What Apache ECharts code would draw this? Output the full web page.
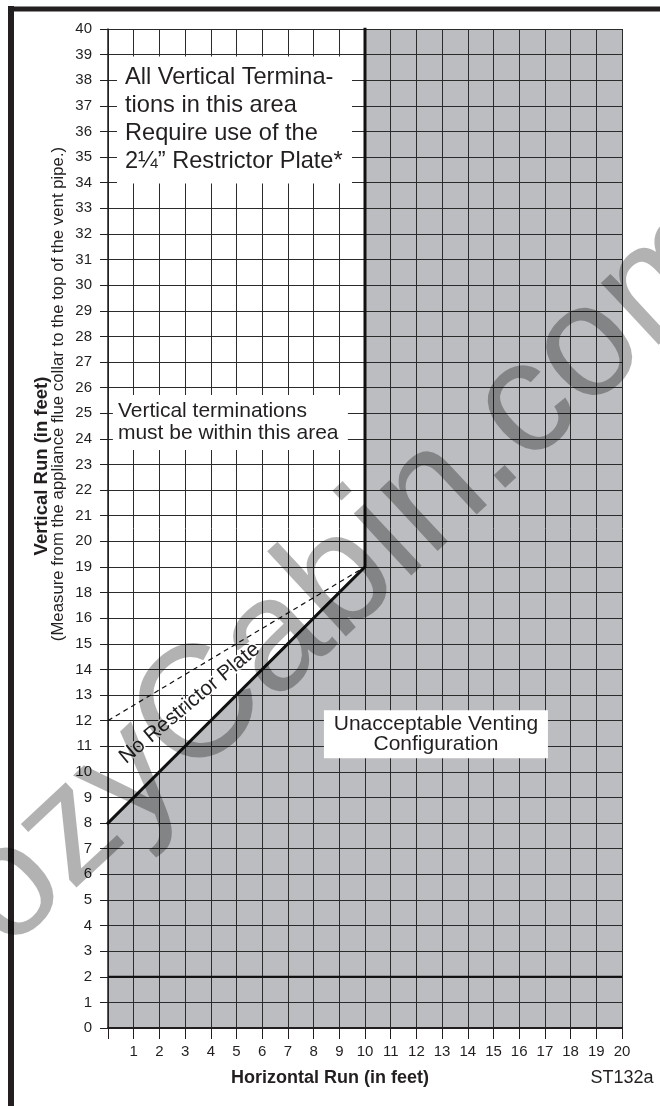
<!DOCTYPE html>
<html>
<head>
<meta charset="utf-8">
<script src="https://cdn.jsdelivr.net/npm/echarts@6/dist/echarts.min.js"></script>
<style>
html,body{margin:0;padding:0;background:#fff;}
#chart{width:660px;height:1106px;}
</style>
</head>
<body>
<div id="chart"></div>
<script>
// ---- data ----
// y tick labels as printed (note: the original scale has no "17")
const yTickLabels = ['0','1','2','3','4','5','6','7','8','9','10','11','12','13','14','15','16',
  '18','19','20','21','22','23','24','25','26','27','28','29','30','31','32','33','34','35','36','37','38','39','40'];
const xTickLabels = ['','1','2','3','4','5','6','7','8','9','10','11','12','13','14','15','16','17','18','19','20'];

// boundary with restrictor plate limits (horizontal ft, vertical ft)
const boundaryX = [0, 10, 10];
const boundaryY = [8, 19, 40];
// "No Restrictor Plate" dashed limit
const noPlateX = [0, 10];
const noPlateY = [12, 19];
// unacceptable region polygon
const areaX = [0, 0, 10, 10, 20, 20];
const areaY = [0, 8, 19, 40, 40, 0];
// heavy reference line at 2 ft
const refX = [0, 20];
const refY = [2, 2];

// convert a printed vertical value to its position on the printed scale
function toIdx(v) {
  const s = String(v);
  const i = yTickLabels.indexOf(s);
  if (i >= 0) return i;
  return v <= 16 ? v : v - 1;
}

const INK = '#231f20';
const GREY = '#bcbdc0';
const FONT = '"Liberation Sans", Arial, sans-serif';
const NARROW = '"Liberation Sans Narrow", "Arial Narrow", "Liberation Sans", sans-serif';

const chart = echarts.init(document.getElementById('chart'), null, {renderer: 'canvas'});

const areaData = areaX.map((x, i) => [x, toIdx(areaY[i])]);

const option = {
  backgroundColor: '#fff',
  animation: false,
  grid: {left: 108, right: 38, top: 29, bottom: 78},
  xAxis: {
    type: 'value', min: 0, max: 20, interval: 1, z: 3,
    axisLine: {show: true, lineStyle: {color: INK, width: 2}},
    axisTick: {show: true, length: 11, lineStyle: {color: INK, width: 1}},
    axisLabel: {
      formatter: v => xTickLabels[v],
      color: INK, fontFamily: NARROW, fontSize: 15, margin: 16
    },
    splitLine: {show: true, lineStyle: {color: '#2b2b2b', width: 1}}
  },
  yAxis: {
    type: 'value', min: 0, max: yTickLabels.length - 1, interval: 1, z: 3,
    axisLine: {show: true, lineStyle: {color: INK, width: 1.5}},
    axisTick: {show: true, length: 8, lineStyle: {color: INK, width: 1}},
    axisLabel: {
      formatter: v => yTickLabels[v],
      color: INK, fontFamily: NARROW, fontSize: 15, margin: 16
    },
    splitLine: {show: true, lineStyle: {color: '#2b2b2b', width: 1}}
  },
  series: [
    {
      type: 'custom', z: 1, silent: true,
      data: areaData,
      renderItem: function (params, api) {
        if (params.dataIndex !== 0) return null;
        const pts = areaData.map(p => api.coord(p));
        return {type: 'polygon', shape: {points: pts}, style: {fill: GREY}};
      }
    },
    {
      type: 'line', z: 5, symbol: 'none', silent: true,
      data: refX.map((x, i) => [x, toIdx(refY[i])]),
      lineStyle: {color: '#111', width: 2}
    },
    {
      type: 'line', z: 5, symbol: 'none', silent: true,
      data: noPlateX.map((x, i) => [x, toIdx(noPlateY[i])]),
      lineStyle: {color: '#111', width: 1.2, type: [5, 4]}
    },
    {
      type: 'line', z: 6, symbol: 'none', silent: true,
      data: boundaryX.map((x, i) => [x, toIdx(boundaryY[i])]),
      lineStyle: {color: '#111', width: 3, cap: 'square', join: 'miter'}
    },
    {
      type: 'scatter', z: 10, symbolSize: 0, silent: true,
      itemStyle: {opacity: 1},
      data: [
        {value: [0.35, 35.45], label: {
          formatter: 'All Vertical Termina-\ntions in this area\nRequire use of the\n2\u00BC\u201D Restrictor Plate*',
          align: 'left', verticalAlign: 'middle', fontSize: 23.6, lineHeight: 28,
          width: 218, padding: [8, 9, 7, 8]}},
        {value: [0.19, 23.64], label: {
          formatter: 'Vertical terminations\nmust be within this area',
          align: 'left', verticalAlign: 'middle', fontSize: 21, lineHeight: 22,
          width: 228, padding: [5, 2, 6, 5]}},
        {value: [12.76, 11.47], label: {
          formatter: 'Unacceptable Venting\nConfiguration',
          align: 'center', verticalAlign: 'middle', fontSize: 21, lineHeight: 20,
          width: 210, padding: [4, 7, 4, 7]}}
      ],
      label: {
        show: true, position: 'inside', color: INK, fontFamily: FONT,
        backgroundColor: '#fff', opacity: 1
      }
    },
    {
      type: 'scatter', z: 9, symbolSize: 0, silent: true,
      itemStyle: {opacity: 1},
      data: [{value: [3.18, 12.68]}],
      label: {
        show: true, position: 'inside', formatter: 'No Restrictor Plate',
        rotate: 40, color: INK, fontFamily: FONT, fontSize: 21, opacity: 1,
        textBorderColor: '#fff', textBorderWidth: 3
      }
    }
  ],
  graphic: {
    elements: [
      {type: 'line', z: 100, shape: {x1: 11, y1: 6, x2: 11, y2: 1106}, style: {stroke: INK, lineWidth: 6}},
      {type: 'line', z: 100, shape: {x1: 8, y1: 9, x2: 660, y2: 9}, style: {stroke: INK, lineWidth: 5}},
      {type: 'text', z: 100, x: 42, y: 466, rotation: Math.PI / 2,
        style: {text: 'Vertical Run (in feet)', font: 'bold 18.5px ' + FONT, fill: INK, align: 'center', verticalAlign: 'middle'}},
      {type: 'text', z: 100, x: 58, y: 394, rotation: Math.PI / 2,
        style: {text: '(Measure from the appliance flue collar to the top of the vent pipe.)', font: '16.8px ' + FONT, fill: INK, align: 'center', verticalAlign: 'middle'}},
      {type: 'text', z: 100, x: 330, y: 1078,
        style: {text: 'Horizontal Run (in feet)', font: 'bold 18px ' + FONT, fill: INK, align: 'center', verticalAlign: 'middle'}},
      {type: 'text', z: 100, x: 622, y: 1078,
        style: {text: 'ST132a', font: '18px ' + FONT, fill: INK, align: 'center', verticalAlign: 'middle'}},
      {type: 'text', z: 120, x: 318, y: 602, rotation: 43 * Math.PI / 180, silent: true,
        style: {text: 'cozyCabin.com', font: '160px ' + FONT, fill: 'rgba(0,0,0,0.3)', align: 'center', verticalAlign: 'middle'}}
    ]
  }
};
chart.setOption(option);
</script>
</body>
</html>
